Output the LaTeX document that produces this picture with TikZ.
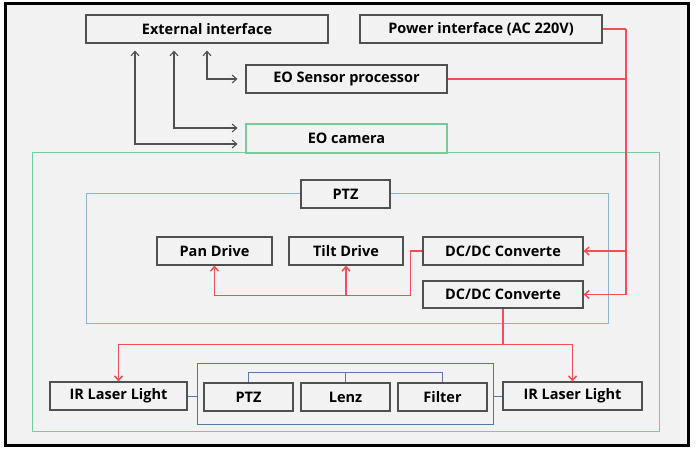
\documentclass[tikz,border=0pt]{standalone}
\usepackage{fontspec}
\setmainfont{Open Sans}
\usepackage{xcolor}
\usetikzlibrary{arrows.meta}
\definecolor{bgray}{RGB}{242,242,242}
\definecolor{boxline}{RGB}{80,80,80}
\definecolor{camgreen}{RGB}{115,205,155}
\definecolor{ptzblue}{RGB}{140,180,205}
\definecolor{lensnavy}{RGB}{95,115,165}
\definecolor{pwrred}{RGB}{240,80,80}
\tikzstyle{unit} = [draw=boxline, line width=1.1pt, fill=bgray, minimum height=28pt, inner sep=0pt, font=\fontsize{14.5}{16}\selectfont\bfseries]
\tikzstyle{frame} = [rectangle, line width=1pt, inner sep=0pt]
\tikzstyle{garrow} = [boxline, line width=1.1pt, {Straight Barb[length=4.5pt,width=8pt]}-{Straight Barb[length=4.5pt,width=8pt]}, shorten <=8pt, shorten >=7pt]
\tikzstyle{rline} = [draw=pwrred, line width=1.5pt]
\tikzstyle{rarrow} = [rline, -{Straight Barb[length=4.5pt,width=8pt]}]
\tikzset{>=latex}

\begin{document}
\begin{tikzpicture}[x=1pt,y=-1pt]
\useasboundingbox (0,0) rectangle (696,453);
\fill[white] (0,0) rectangle (696,453);
\draw[line width=3pt, fill=bgray] (5,3) rectangle (688,445);
%frames
\node[frame, draw=camgreen, minimum width=627pt, minimum height=279pt] (cam) at (345.5,291.5) {};
\node[frame, draw=ptzblue, minimum width=522pt, minimum height=130pt] (ptzbox) at (347,258) {};
\node[frame, draw=lensnavy, minimum width=296pt, minimum height=61pt] (lensbox) at (345,393.5) {};
%top units
\node[unit, minimum width=242pt] (ext) at (207,29) {External interface};
\node[unit, minimum width=242pt] (power) at (481,29) {Power interface (AC 220V)};
\node[unit, minimum width=201pt] (eoproc) at (346.5,79) {EO Sensor processor};
\node[unit, draw=camgreen, minimum width=201pt, minimum height=29pt] (eocam) at (346.5,138.5) {EO camera};
%ptz units
\node[unit, minimum width=89pt] (ptzlabel) at (345.5,194) {PTZ};
\node[unit, minimum width=115pt] (pan) at (214.5,251) {Pan Drive};
\node[unit, minimum width=114pt] (tilt) at (346,251) {Tilt Drive};
\node[unit, minimum width=160pt] (dcone) at (503,251) {DC/DC Converte};
\node[unit, minimum width=160pt, minimum height=27pt] (dctwo) at (503,294.5) {DC/DC Converte};
%lower units
\node[unit, minimum width=137pt] (irleft) at (118.5,396) {IR Laser Light};
\node[unit, minimum width=139pt] (irright) at (572.5,396) {IR Laser Light};
\node[unit, minimum width=89pt] (ptzin) at (248.5,397) {PTZ};
\node[unit, minimum width=89pt] (lenz) at (345.5,397) {Lenz};
\node[unit, minimum width=89pt] (filter) at (442.5,397) {Filter};
%interface arrows
\draw[garrow] (eoproc.west) -| (ext.south);
\draw[garrow] ([yshift=10.5pt]eocam.west) -| ([xshift=-33pt]ext.south);
\draw[garrow] ([yshift=-5.5pt]eocam.west) -| ([xshift=-72pt]ext.south);
%power lines
\coordinate (bus) at (626,29);
\draw[rline] (power.east) -- (bus);
\draw[rline] (eoproc.east) -- (bus |- eoproc.east);
\draw[rarrow] (bus) |- (dctwo.east);
\draw[rarrow] (bus |- dcone.east) -- (dcone.east);
\draw[rarrow] (dcone.west) -- ++(-12,0) |- ([yshift=-30pt]pan.south) coordinate (drv) -- (pan.south);
\draw[rarrow] (tilt.south |- drv) -- (tilt.south);
\draw[rline] (dctwo.south) -- ++(0,36) coordinate (split);
\draw[rarrow] (split) -| (irleft.north);
\draw[rarrow] (split) -| (irright.north);
%lens links
\draw[lensnavy, line width=1pt] (irleft.east) -- (lensbox.west |- irleft.east);
\draw[lensnavy, line width=1pt] (lensbox.east |- irright.west) -- (irright.west);
\draw[lensnavy, line width=1pt] (ptzin.north) -- ++(0,-10) -| (filter.north);
\draw[lensnavy, line width=1pt] (lenz.north) -- ++(0,-10);
\end{tikzpicture}
\end{document}
